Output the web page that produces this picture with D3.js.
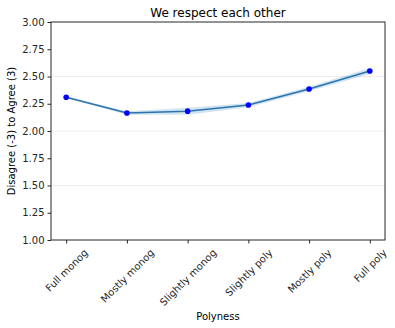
<!DOCTYPE html>
<html>
<head>
<meta charset="utf-8">
<script src="https://cdn.jsdelivr.net/npm/d3@7"></script>
<style>
  body { margin: 0; background: #fff; }
  svg { display: block; font-family: "DejaVu Sans", sans-serif; }
</style>
</head>
<body>
<svg id="chart" width="395" height="328"></svg>
<script>
// Mean agreement by polyness group, with confidence band
const categories = ["Full monog", "Mostly monog", "Slightly monog", "Slightly poly", "Mostly poly", "Full poly"];
const meanValues = [2.31, 2.165, 2.182, 2.238, 2.385, 2.55];
const lowerValues = [2.302, 2.148, 2.15, 2.218, 2.365, 2.522];
const upperValues = [2.318, 2.182, 2.214, 2.258, 2.405, 2.578];
const yTicks = [1.00, 1.25, 1.50, 1.75, 2.00, 2.25, 2.50, 2.75, 3.00];
const gridValues = [1.5, 2.0, 2.5];

const svg = d3.select("#chart");
const margin = { left: 51, right: 10, top: 22, bottom: 88 };
const W = 395, H = 328;
const plotW = W - margin.left - margin.right;
const plotH = H - margin.top - margin.bottom;

const x = d3.scaleLinear()
  .domain([-0.25, categories.length - 1 + 0.25])
  .range([margin.left, margin.left + plotW]);
const y = d3.scaleLinear().domain([1, 3]).range([margin.top + plotH, margin.top]);

const data = categories.map((c, i) => ({ c, i, m: meanValues[i], lo: lowerValues[i], hi: upperValues[i] }));

// light horizontal grid
svg.append("g").selectAll("line").data(gridValues).join("line")
  .attr("x1", margin.left).attr("x2", margin.left + plotW)
  .attr("y1", d => y(d)).attr("y2", d => y(d))
  .attr("stroke", "#eeeeee").attr("stroke-width", 1);

// confidence band
svg.append("path").datum(data)
  .attr("d", d3.area().x(d => x(d.i)).y0(d => y(d.lo)).y1(d => y(d.hi)))
  .attr("fill", "#1f77b4").attr("fill-opacity", 0.2);

// mean line
svg.append("path").datum(data)
  .attr("d", d3.line().x(d => x(d.i)).y(d => y(d.m)))
  .attr("fill", "none").attr("stroke", "#2a73ad").attr("stroke-width", 1.5);

// markers
svg.append("g").selectAll("circle").data(data).join("circle")
  .attr("cx", d => x(d.i)).attr("cy", d => y(d.m)).attr("r", 2.8)
  .attr("fill", "#0000ff");

// frame
svg.append("rect")
  .attr("x", margin.left).attr("y", margin.top)
  .attr("width", plotW).attr("height", plotH)
  .attr("fill", "none").attr("stroke", "#262626").attr("stroke-width", 1);

// y axis
const yAxis = svg.append("g")
  .attr("transform", `translate(${margin.left},0)`)
  .call(d3.axisLeft(y).tickValues(yTicks).tickFormat(d3.format(".2f")).tickSize(3.5).tickPadding(3));
yAxis.select(".domain").remove();
yAxis.selectAll("line").attr("stroke", "#262626");
yAxis.selectAll("text").attr("font-size", 10).attr("fill", "#262626")
  .attr("font-family", "DejaVu Sans, sans-serif");

// x axis
const xAxis = svg.append("g")
  .attr("transform", `translate(0,${margin.top + plotH})`)
  .call(d3.axisBottom(x).tickValues(d3.range(categories.length)).tickFormat(i => categories[i]).tickSize(3.5));
xAxis.select(".domain").remove();
xAxis.selectAll("line").attr("stroke", "#262626");
xAxis.selectAll("text").each(function () {
  const t = d3.select(this);
  t.attr("font-size", 10).attr("fill", "#262626")
   .attr("font-family", "DejaVu Sans, sans-serif")
   .attr("text-anchor", "middle").attr("dy", null).attr("y", null)
   .attr("dominant-baseline", "central");
  const w = this.getComputedTextLength();
  const h = (w + 11) * Math.SQRT1_2;
  t.attr("transform", `translate(0,${7 + h / 2}) rotate(-45)`);
});

// title and axis labels
svg.append("text").attr("x", margin.left + plotW / 2).attr("y", 17)
  .attr("text-anchor", "middle").attr("font-size", 12).attr("fill", "#000")
  .text("We respect each other");
svg.append("text").attr("x", margin.left + plotW / 2).attr("y", 320)
  .attr("text-anchor", "middle").attr("font-size", 10).attr("fill", "#000")
  .text("Polyness");
svg.append("text")
  .attr("transform", `translate(15,${margin.top + plotH / 2}) rotate(-90)`)
  .attr("text-anchor", "middle").attr("font-size", 10).attr("fill", "#000")
  .text("Disagree (-3) to Agree (3)");
</script>
</body>
</html>
